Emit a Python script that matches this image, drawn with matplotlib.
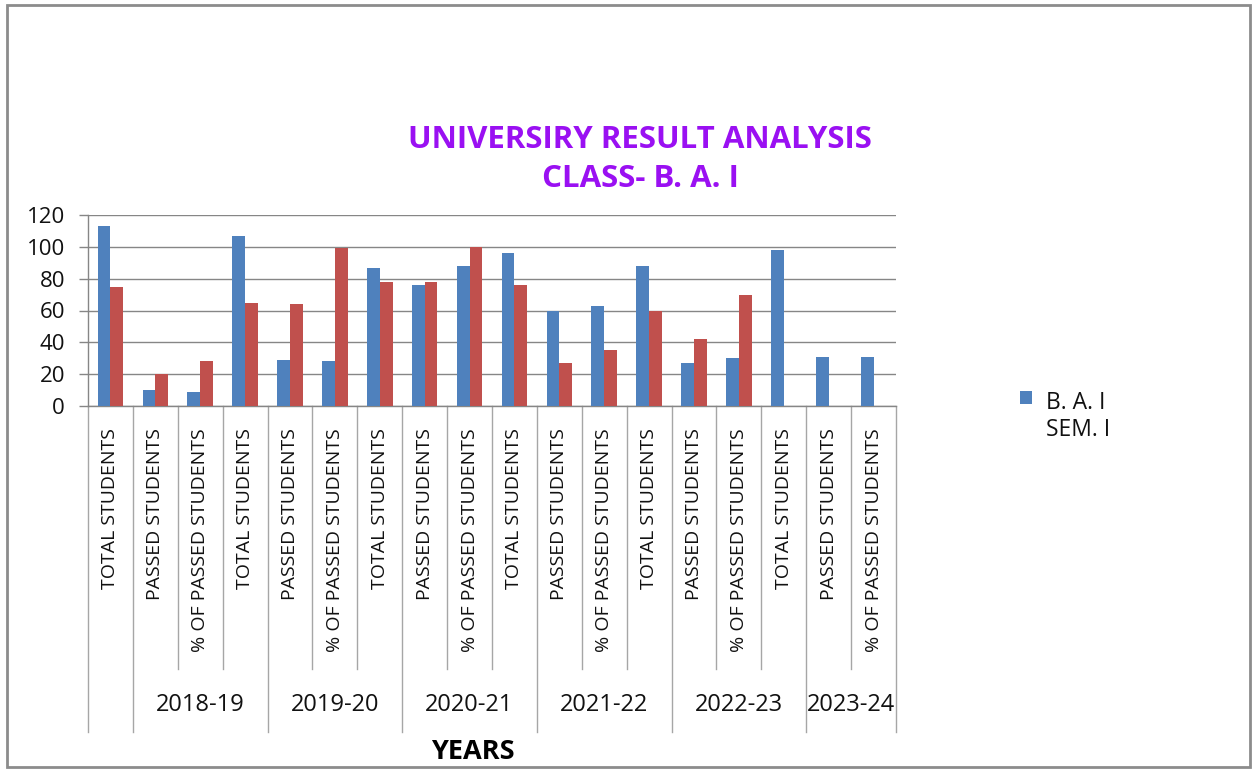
import numpy as np
import matplotlib
matplotlib.use("Agg")
import matplotlib.pyplot as plt
from matplotlib.patches import Patch, Rectangle

categories = [
    "TOTAL STUDENTS",
    "PASSED STUDENTS", "% OF PASSED STUDENTS", "TOTAL STUDENTS",
    "PASSED STUDENTS", "% OF PASSED STUDENTS", "TOTAL STUDENTS",
    "PASSED STUDENTS", "% OF PASSED STUDENTS", "TOTAL STUDENTS",
    "PASSED STUDENTS", "% OF PASSED STUDENTS", "TOTAL STUDENTS",
    "PASSED STUDENTS", "% OF PASSED STUDENTS", "TOTAL STUDENTS",
    "PASSED STUDENTS", "% OF PASSED STUDENTS"]

# year groups as they appear under the category labels (first one is blank)
years = ["", "2018-19", "2019-20", "2020-21", "2021-22", "2022-23", "2023-24"]
year_sizes = [1, 3, 3, 3, 3, 3, 2]

sem1 = [113, 10, 8.5, 107, 29, 28, 87, 76, 88, 96, 60, 63, 88, 27, 30, 98, 31, 31]
sem2 = [75, 20, 28, 65, 64, 99, 78, 78, 100, 76, 27, 35, 60, 42, 70,
        np.nan, np.nan, np.nan]

blue = "#4F81BD"
red = "#C0504D"
grid_col = "#868686"
sep_col = "#A6A6A6"
title_col = "#9A10F2"

plt.rcParams['font.family'] = ['Open Sans', 'DejaVu Sans']

fig = plt.figure(figsize=(12.58, 7.69), dpi=100)
ax = fig.add_axes([88 / 1258, 1 - 406 / 769, 808 / 1258, 191 / 769])

x = np.arange(len(categories))
w = 0.285
ax.bar(x - w / 2, sem1, width=w, color=blue, zorder=3)
ax.bar(x + w / 2, sem2, width=w, color=red, zorder=3)

ax.set_xlim(-0.5, len(categories) - 0.5)
ax.set_ylim(0, 120)
ax.set_yticks(range(0, 121, 20))
ax.grid(True, axis='y', color=grid_col, lw=1, zorder=0)
ax.tick_params(axis='y', length=6.5, width=1, color=grid_col, pad=10,
               labelsize=16, labelcolor='#111111')
for s in ['top', 'right']:
    ax.spines[s].set_visible(False)
for s in ['left', 'bottom']:
    ax.spines[s].set_color(grid_col)
    ax.spines[s].set_linewidth(1)

ax.set_xticks(x)
ax.set_xticklabels(categories, rotation=90, fontsize=14, color='#111111')
ax.tick_params(axis='x', length=0, pad=15.8)

# multi-level category axis: separators and year labels
trans = ax.get_xaxis_transform()
edges = np.cumsum([0] + year_sizes) - 0.5
for e in edges:
    ax.plot([e, e], [0, -1.707], transform=trans, color=sep_col, lw=1,
            clip_on=False)
for start, size in zip(edges[:-1], year_sizes):
    for k in range(1, size):
        ax.plot([start + k, start + k], [0, -1.377], transform=trans,
                color=sep_col, lw=1, clip_on=False)
for start, size, yr in zip(edges[:-1], year_sizes, years):
    ax.text(start + size / 2, -1.565, yr, transform=trans, ha='center',
            va='center', fontsize=17, color='#111111')

ax.text(0.4765, -1.81, "YEARS", transform=ax.transAxes, ha='center',
        va='center', fontsize=19.5, fontweight='bold', color='#000000')

fig.text(640 / 1258, 1 - 140 / 769, "UNIVERSIRY RESULT ANALYSIS", ha='center',
         va='center', fontsize=22.5, fontweight='bold', color=title_col)
fig.text(640 / 1258, 1 - 179 / 769, "CLASS- B. A. I", ha='center',
         va='center', fontsize=22.5, fontweight='bold', color=title_col)

handles = [Patch(facecolor=blue, label="B. A. I\nSEM. I")]
leg = fig.legend(handles=handles, loc='upper left',
                 bbox_to_anchor=(999 / 1258, 1 - 370 / 769), frameon=False,
                 fontsize=16.5, handlelength=0.55, handleheight=0.55,
                 handletextpad=0.6, labelcolor='#111111')
# put the marker next to the first line, like Excel does
for col in leg._legend_handle_box.get_children():
    for row in col.get_children():
        row.align = "top"

fig.patches.append(Rectangle((7 / 1258, 1 - 767 / 769), 1243 / 1258,
                             762 / 769, transform=fig.transFigure,
                             fill=False, edgecolor='#8C8C8C', lw=2))

fig.savefig("out.png", dpi=100)
